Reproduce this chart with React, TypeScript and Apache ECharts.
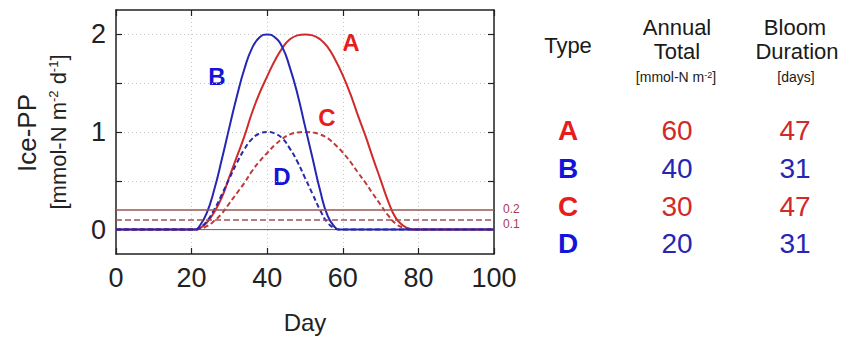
import React, { useEffect, useRef } from "react";
import * as echarts from "echarts";

const FONT = "'Liberation Sans', Arial, sans-serif";

// Day grids for the curves
const daysAC = [0, 21, 22, 24, 26, 28, 30, 32, 34, 36, 38, 40, 42, 44, 46, 48, 50, 52, 54, 56, 58, 60, 62, 64, 66, 68, 70, 72, 74, 76, 78, 79, 100];
const daysBD = [0, 21, 22, 24, 26, 28, 30, 32, 34, 36, 38, 40, 42, 44, 46, 48, 50, 52, 54, 56, 58, 59, 100];

// Ice-PP values (mmol-N m-2 d-1)
const valuesA = [0, 0, 0.01, 0.07, 0.18, 0.33, 0.54, 0.75, 0.96, 1.2, 1.4, 1.57, 1.73, 1.86, 1.95, 1.99, 2.0, 1.99, 1.95, 1.87, 1.74, 1.58, 1.39, 1.17, 0.96, 0.73, 0.51, 0.29, 0.12, 0.04, 0.005, 0, 0];
const valuesC = [0, 0, 0.005, 0.035, 0.09, 0.165, 0.27, 0.375, 0.48, 0.6, 0.7, 0.785, 0.865, 0.93, 0.975, 0.995, 1.0, 0.995, 0.975, 0.935, 0.87, 0.79, 0.695, 0.585, 0.48, 0.365, 0.255, 0.145, 0.06, 0.02, 0.003, 0, 0];
const valuesB = [0, 0, 0.03, 0.17, 0.41, 0.72, 1.05, 1.37, 1.65, 1.86, 1.97, 2.0, 1.97, 1.87, 1.66, 1.39, 1.06, 0.73, 0.4, 0.14, 0.02, 0, 0];
const valuesD = [0, 0, 0.015, 0.085, 0.205, 0.36, 0.525, 0.685, 0.825, 0.93, 0.985, 1.0, 0.985, 0.935, 0.83, 0.695, 0.53, 0.365, 0.2, 0.07, 0.01, 0, 0];

const thresholds = [0.2, 0.1];
const yLabels = [0, 1, 2];
const yTicks = [0, 0.5, 1, 1.5, 2];

// Table
const types = ["A", "B", "C", "D"];
const annualTotal = [60, 40, 30, 20];
const bloomDuration = [47, 31, 47, 31];

const RED = "#d02a2a";
const BLUE = "#2626b4";
const RED_DASH = "#c03a3a";
const BLUE_DASH = "#2a2aa8";
const LABEL_RED = "#e81c1c";
const LABEL_BLUE = "#1414d8";
const TH_COLOR = "#9a5656";
const TH_LABEL = "#a83a5a";

function zip(xs: number[], ys: number[]) {
  return xs.map((x, i) => [x, ys[i]]);
}

export default function App() {
  const ref = useRef<HTMLDivElement>(null);
  useEffect(() => {
    if (!ref.current) return;
    const chart = echarts.init(ref.current, undefined, { renderer: "svg" });

    const lineSeries = (name: string, xs: number[], ys: number[], color: string, dashed: boolean) => ({
      name,
      type: "line",
      data: zip(xs, ys),
      showSymbol: false,
      symbol: "none",
      smooth: 0.5,
      lineStyle: { color, width: 2, type: dashed ? [5, 3] : "solid" },
      silent: true,
    });

    const rowY = [130, 168, 206, 243];
    const tableText: any[] = [];
    types.forEach((t, i) => {
      const isRed = i % 2 === 0;
      tableText.push({
        type: "text",
        x: 568,
        y: rowY[i],
        style: { text: t, fontFamily: FONT, fontSize: 28, fontWeight: "bold", fill: isRed ? LABEL_RED : LABEL_BLUE, align: "center", verticalAlign: "middle" },
      });
      tableText.push({
        type: "text",
        x: 677,
        y: rowY[i],
        style: { text: String(annualTotal[i]), fontFamily: FONT, fontSize: 28, fill: isRed ? RED : BLUE, align: "center", verticalAlign: "middle" },
      });
      tableText.push({
        type: "text",
        x: 795,
        y: rowY[i],
        style: { text: String(bloomDuration[i]), fontFamily: FONT, fontSize: 28, fill: isRed ? RED : BLUE, align: "center", verticalAlign: "middle" },
      });
    });

    const header = (text: string, x: number, y: number, size: number) => ({
      type: "text",
      x,
      y,
      style: { text, fontFamily: FONT, fontSize: size, fill: "#1a1a1a", align: "center", verticalAlign: "middle" },
    });

    const curveLabel = (text: string, x: number, y: number, color: string) => ({
      type: "text",
      x,
      y,
      style: { text, fontFamily: FONT, fontSize: 24, fontWeight: "bold", fill: color, align: "center", verticalAlign: "middle" },
    });

    chart.setOption({
      animation: false,
      backgroundColor: "#ffffff",
      grid: { left: 116, top: 10, width: 378, height: 244, containLabel: false },
      xAxis: [
        {
          type: "value",
          min: 0,
          max: 100,
          interval: 20,
          position: "bottom",
          axisLine: { show: true, onZero: false, lineStyle: { color: "#222", width: 1.5 } },
          axisTick: { show: true, inside: true, length: 6, lineStyle: { color: "#222", width: 1.2 } },
          axisLabel: { show: true, margin: 10, fontFamily: FONT, fontSize: 27, color: "#222" },
          splitLine: { show: true, lineStyle: { color: "#c4c4c4", type: [1, 3], width: 1 } },
        },
        {
          type: "value",
          min: 0,
          max: 100,
          interval: 20,
          position: "top",
          axisLine: { show: true, onZero: false, lineStyle: { color: "#222", width: 1.5 } },
          axisTick: { show: true, inside: true, length: 6, lineStyle: { color: "#222", width: 1.2 } },
          axisLabel: { show: false },
          splitLine: { show: false },
        },
      ],
      yAxis: [
        {
          type: "value",
          min: -0.25,
          max: 2.25,
          position: "left",
          axisLine: { show: true, onZero: false, lineStyle: { color: "#222", width: 1.5 } },
          axisTick: { show: true, inside: true, length: 6, customValues: yTicks, lineStyle: { color: "#222", width: 1.2 } },
          axisLabel: { show: true, customValues: yLabels, margin: 10, fontFamily: FONT, fontSize: 27, color: "#222" },
          splitLine: { show: true, lineStyle: { color: "#c4c4c4", type: [1, 3], width: 1 } },
        },
        {
          type: "value",
          min: -0.25,
          max: 2.25,
          position: "right",
          axisLine: { show: true, onZero: false, lineStyle: { color: "#222", width: 1.5 } },
          axisTick: { show: true, inside: true, length: 6, customValues: yTicks, lineStyle: { color: "#222", width: 1.2 } },
          axisLabel: { show: false },
          splitLine: { show: false },
        },
      ],
      series: [
        {
          name: "zero",
          type: "line",
          data: [[0, 0], [100, 0]],
          showSymbol: false,
          symbol: "none",
          lineStyle: { color: "#666", width: 1 },
          silent: true,
          markLine: {
            silent: true,
            symbol: "none",
            animation: false,
            data: [
              {
                yAxis: thresholds[0],
                lineStyle: { color: TH_COLOR, width: 1.5, type: "solid" },
                label: { show: true, position: "end", formatter: String(thresholds[0]), color: TH_LABEL, fontFamily: FONT, fontSize: 12, distance: 9, offset: [0, -1] },
              },
              {
                yAxis: thresholds[1],
                lineStyle: { color: TH_COLOR, width: 1.5, type: [6, 3] },
                label: { show: true, position: "end", formatter: String(thresholds[1]), color: TH_LABEL, fontFamily: FONT, fontSize: 12, distance: 9, offset: [0, 4] },
              },
            ],
          },
        },
        lineSeries("C", daysAC, valuesC, RED_DASH, true),
        lineSeries("A", daysAC, valuesA, RED, false),
        lineSeries("D", daysBD, valuesD, BLUE_DASH, true),
        lineSeries("B", daysBD, valuesB, BLUE, false),
      ],
      graphic: [
        curveLabel("A", 351, 42, LABEL_RED),
        curveLabel("B", 217, 76, LABEL_BLUE),
        curveLabel("C", 327, 117, LABEL_RED),
        curveLabel("D", 282, 176, LABEL_BLUE),
        {
          type: "text",
          x: 305,
          y: 322,
          style: { text: "Day", fontFamily: FONT, fontSize: 24, fill: "#222", align: "center", verticalAlign: "middle" },
        },
        {
          type: "text",
          x: 27,
          y: 133,
          rotation: Math.PI / 2,
          style: { text: "Ice-PP", fontFamily: FONT, fontSize: 26, fill: "#222", align: "center", verticalAlign: "middle" },
        },
        {
          type: "text",
          x: 58,
          y: 132,
          rotation: Math.PI / 2,
          style: {
            text: "{a|[mmol-N m}{s|-2}{a| d}{s|-1}{a|]}",
            fontFamily: FONT,
            fill: "#222",
            align: "center",
            verticalAlign: "middle",
            rich: {
              a: { fontFamily: FONT, fontSize: 22, fill: "#222", verticalAlign: "bottom" },
              s: { fontFamily: FONT, fontSize: 13, fill: "#222", verticalAlign: "top" },
            },
          },
        },
        header("Type", 568, 45, 22),
        header("Annual", 677, 27, 22),
        header("Total", 677, 51, 22),
        header("Bloom", 795, 27, 22),
        header("Duration", 797, 51, 22),
        {
          type: "text",
          x: 676,
          y: 77,
          style: {
            text: "{a|[mmol-N m}{s|-2}{a|]}",
            fontFamily: FONT,
            fill: "#222",
            align: "center",
            verticalAlign: "middle",
            rich: {
              a: { fontFamily: FONT, fontSize: 14, fill: "#222", verticalAlign: "bottom" },
              s: { fontFamily: FONT, fontSize: 9, fill: "#222", verticalAlign: "top" },
            },
          },
        },
        header("[days]", 796, 77, 14),
        ...tableText,
      ],
    });

    return () => chart.dispose();
  }, []);

  return <div ref={ref} style={{ width: 848, height: 339, position: "absolute", left: 0, top: 0 }} />;
}
